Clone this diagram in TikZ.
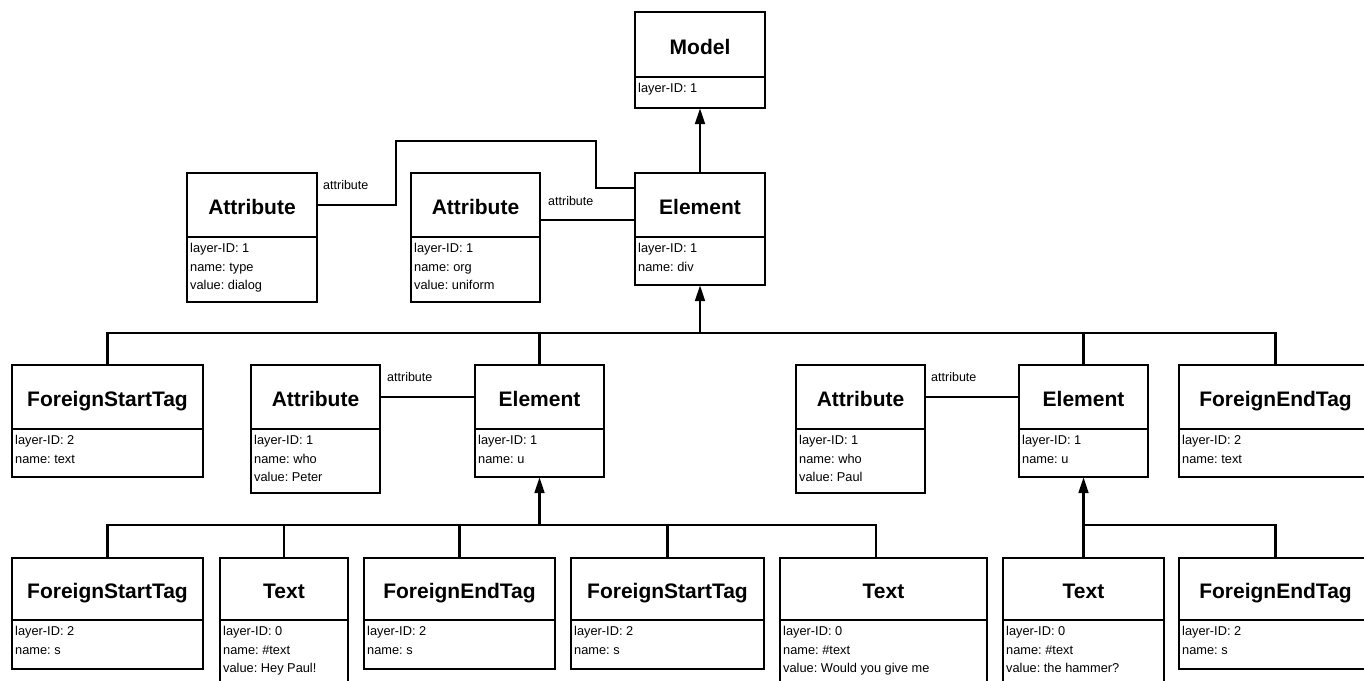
\documentclass[tikz,border=0pt]{standalone}
\usepackage{fontspec}
\setmainfont{Liberation Sans}
\usetikzlibrary{arrows.meta}
\frenchspacing
\tikzset{
  box/.style={draw=black, line width=2.9pt, inner sep=0pt, outer sep=0pt, fill=white},
  divline/.style={line width=2.9pt},
  boxtitle/.style={font=\bfseries\fontsize{21}{25}\selectfont, inner sep=0pt, anchor=base},
  boxbody/.style={font=\frenchspacing\fontsize{12.8}{15}\selectfont, inner sep=0pt, anchor=base west},
  link/.style={line width=2.9pt},
  parent/.style={link, -{Triangle[length=16pt,width=9.5pt]}},
  lbl/.style={font=\fontsize{12.5}{15}\selectfont, inner sep=0pt, anchor=base west},
}
\newcommand{\umlbox}[8]{%
  \node[box, anchor=north west, minimum width={(#3-#2)*1pt}, minimum height={(#6-#4)*1pt}] (#1) at (#2,#4) {};
  \draw[divline] (#2,#5) -- (#3,#5);
  \coordinate (#1-c) at ({(#2+#3)/2},{(#4+#5)/2});
  \node[boxtitle] (#1-t) at ({(#2+#3)/2},{(#4+#5)/2+9.5}) {#7};
  \foreach \ln [count=\i] in {#8} {
    \node[boxbody] (#1-l\i) at ({#2+3},{#5+15.5+(\i-1)*18.7}) {\ln};
  }
}
\begin{document}
\begin{tikzpicture}[x=1pt,y=-1pt]
\fill[white] (0,0) rectangle (1364,680);
\useasboundingbox (0,0) rectangle (1364,680);
\clip (0,0) rectangle (1364,680);

\umlbox{model}{635}{765}{12}{77}{108}{Model}{layer-ID: 1}
\umlbox{elDiv}{635}{765}{173}{237}{285}{Element}{layer-ID: 1, name: div}
\umlbox{attrT}{187}{317}{173}{237}{302}{Attribute}{layer-ID: 1, name: type, value: dialog}
\umlbox{attrO}{411}{540}{173}{237}{302}{Attribute}{layer-ID: 1, name: org, value: uniform}

\umlbox{fst1}{12}{203}{365}{429}{477}{ForeignStartTag}{layer-ID: 2, name: text}
\umlbox{attrP}{251}{380}{365}{429}{493}{Attribute}{layer-ID: 1, name: who, value: Peter}
\umlbox{elU1}{475}{604}{365}{429}{477}{Element}{layer-ID: 1, name: u}
\umlbox{attrPa}{796}{925}{365}{429}{493}{Attribute}{layer-ID: 1, name: who, value: Paul}
\umlbox{elU2}{1019}{1148}{365}{429}{477}{Element}{layer-ID: 1, name: u}
\umlbox{fet1}{1179}{1372}{365}{429}{477}{ForeignEndTag}{layer-ID: 2, name: text}

\umlbox{fst2}{12}{203}{558}{620}{669}{ForeignStartTag}{layer-ID: 2, name: s}
\umlbox{text1}{220}{348}{558}{620}{692}{Text}{layer-ID: 0, name: \#text, value: Hey Paul!}
\umlbox{fet2}{364}{555}{558}{620}{669}{ForeignEndTag}{layer-ID: 2, name: s}
\umlbox{fst3}{571}{764}{558}{620}{669}{ForeignStartTag}{layer-ID: 2, name: s}
\umlbox{text2}{780}{987}{558}{620}{692}{Text}{layer-ID: 0, name: \#text, value: Would you give me}
\umlbox{text3}{1003}{1164}{558}{620}{692}{Text}{layer-ID: 0, name: \#text, value: the hammer?}
\umlbox{fet3}{1179}{1372}{558}{620}{669}{ForeignEndTag}{layer-ID: 2, name: s}

% attribute links
\draw[link] (attrT-c -| attrT.east) -| (396,141) -| (596,188) -- (elDiv.west |- 0,188);
\draw[link] (attrO.east |- 0,220) -- (elDiv.west |- 0,220);
\draw[link] (attrP-c -| attrP.east) -- (elU1-c -| elU1.west);
\draw[link] (attrPa-c -| attrPa.east) -- (elU2-c -| elU2.west);
\node[lbl] (l1) at (323,189.5) {attribute};
\node[lbl] (l2) at (548,205) {attribute};
\node[lbl] (l3) at (387,381.5) {attribute};
\node[lbl] (l4) at (931,381) {attribute};

% tree
\draw[parent] (elDiv.north) -- (model.south);
\coordinate (bus1) at (0,333);
\coordinate (bus2) at (0,525);
\draw[link] (fst1.north) |- (bus1 -| fet1.north) -- (fet1.north);
\draw[link] (elU1.north) -- (elU1.north |- bus1);
\draw[link] (elU2.north) -- (elU2.north |- bus1);
\draw[parent] (elDiv.south |- bus1) -- (elDiv.south);

\coordinate (t2top) at ([xshift=-7.5pt]text2.north);
\draw[link] (fst2.north) |- (bus2 -| t2top) -- (t2top);
\draw[link] (text1.north) -- (text1.north |- bus2);
\draw[link] (fet2.north) -- (fet2.north |- bus2);
\draw[link] (fst3.north) -- (fst3.north |- bus2);
\draw[parent] (elU1.south |- bus2) -- (elU1.south);
\draw[link] (text3.north) |- (bus2 -| fet3.north) -- (fet3.north);
\draw[parent] (elU2.south |- bus2) -- (elU2.south);
\end{tikzpicture}
\end{document}
